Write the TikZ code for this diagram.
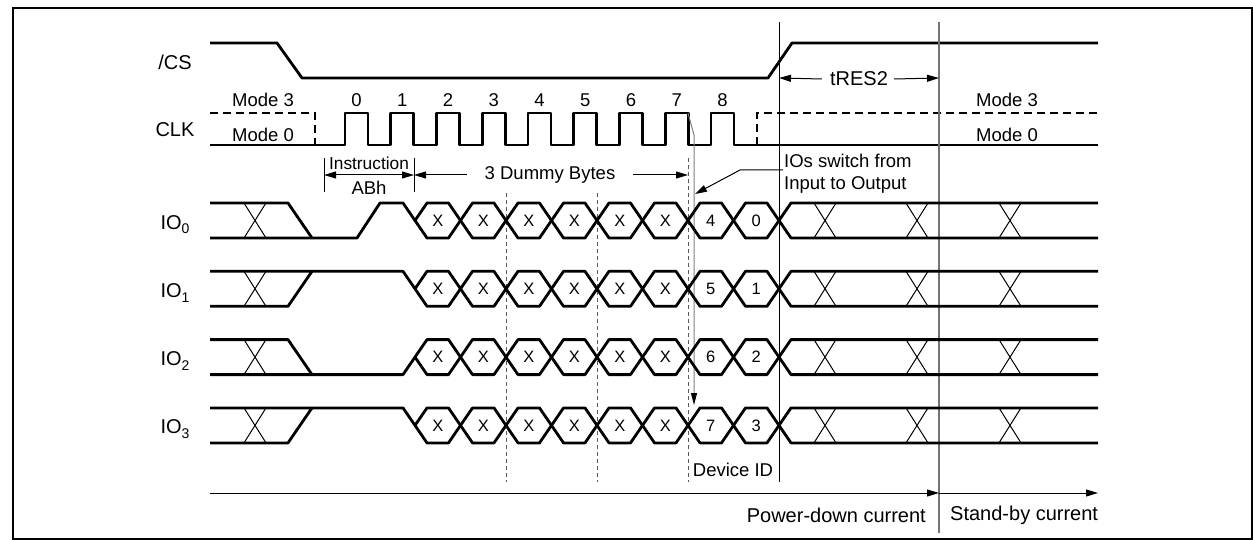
\documentclass[tikz,border=0pt]{standalone}
\usepackage{fontspec}
\setmainfont{Liberation Sans}
\usetikzlibrary{arrows.meta}
\begin{document}
\begin{tikzpicture}[x=1pt,y=-1pt,
  sig/.style={line width=2.8pt, line join=round},
  thinl/.style={line width=1pt},
  lbl/.style={font=\fontsize{18.5}{22}\selectfont, inner sep=0pt},
  namelbl/.style={font=\fontsize{20}{24}\selectfont, inner sep=0pt},
  bublbl/.style={font=\fontsize{16.5}{18}\selectfont, inner sep=0pt},
  biglbl/.style={font=\fontsize{20}{24}\selectfont, inner sep=0pt},
  tip/.style={-{Triangle[length=12pt,width=7pt]}},
  vdash/.style={line width=0.9pt, dash pattern=on 4pt off 3pt, black!65},
  mdash/.style={line width=2.8pt, dash pattern=on 8pt off 5pt},
]
\useasboundingbox (0,0) rectangle (1253,540);
\draw[line width=2pt] (13,8) rectangle (1252,539);

% /CS
\node[namelbl] (cs) at (175,62) {/CS};
\draw[sig] (210,43) -- (277,43) -- (302,78) -- (768,78) -- (792,43) -- (1098,43);

% CLK
\node[namelbl] (clk) at (175,130) {CLK};
\draw[mdash] (210,113) -- (315,113) -- (315,145);
\draw[sig] (210,145) foreach \i in {0,...,8} { -- ({345+45.75*\i},145) -- ({345+45.75*\i},113) -- ({368+45.75*\i},113) -- ({368+45.75*\i},145) } -- (1098,145);
\draw[mdash] (757,145) -- (757,113) -- (1098,113);
\foreach \i in {0,...,8} \node[lbl] (n\i) at ({356.5+45.75*\i},100) {\i};
\node[lbl] (m3l) at (263,100) {Mode 3};
\node[lbl] (m0l) at (263,135) {Mode 0};
\node[lbl] (m3r) at (1007,100) {Mode 3};
\node[lbl] (m0r) at (1007,135) {Mode 0};

% long verticals
\draw[thinl] (779,22) -- (779,482);
\draw[line width=1.5pt, black!55] (939,22) -- (939,533);

% tRES2
\node[namelbl] (tres) at (859,79) {tRES2};
\coordinate (trl) at (779,78);
\coordinate (trr) at (939,78);
\draw[thinl,tip] ([xshift=-8pt]tres.west) -- (trl);
\draw[thinl,tip] ([xshift=6pt]tres.east) -- (trr);

% Instruction
\draw[thinl] (324,158) -- (324,192);
\draw[thinl] (414,158) -- (414,192);
\node[lbl, font=\fontsize{17.3}{20}\selectfont] (ins) at (369,163) {Instruction};
\node[lbl] (abh) at (369,188) {ABh};
\coordinate (insl) at (324,175);
\coordinate (insr) at (414,175);
\draw[thinl,{Triangle[length=12pt,width=7pt]}-{Triangle[length=12pt,width=7pt]}] (insl) -- (insr);

% 3 Dummy Bytes
\node[lbl] (dummy) at (550,175) {3 Dummy Bytes};
\coordinate (dbr) at (688,175);
\draw[thinl,tip] ([xshift=-18pt]dummy.west) -- (insr);
\draw[thinl,tip] ([xshift=18pt]dummy.east) -- (dbr);

% dashed verticals
\draw[vdash] (506,193) -- (506,482);
\draw[vdash] (597,193) -- (597,482);
\draw[vdash] (688,158) -- (688,482);

% clock 7 -> IO3 arrow
\coordinate (c7f) at (688,113);
\coordinate (c7b) at (694,135);
\coordinate (c7t) at (694,405);
\draw[line width=1pt, black!50, -{Triangle[length=12pt,width=6pt,color=black]}] (c7f) -- (c7b) -- (c7t);

% IOs switch note
\node[lbl, align=left, anchor=west] (ios) at (784,174) {IOs switch from\\Input to Output};
\coordinate (iosl) at (783,170);
\coordinate (iosb) at (740,170);
\coordinate (iost) at (695,194);
\draw[thinl,tip] (iosl) -- (iosb) -- (iost);

% Device ID
\node[lbl] (devid) at (733,470) {Device ID};

% IO rows
\foreach \r/\a/\b in {0/4/0, 1/5/1, 2/6/2, 3/7/3} {
  \pgfmathsetmacro{\M}{220.5+68.3*\r}
  \pgfmathsetmacro{\T}{\M-17.5}
  \pgfmathsetmacro{\B}{\M+17.5}
  \node[namelbl] (io\r) at (175,{\M+4}) {IO\raisebox{-0.45ex}{\fontsize{14}{16}\selectfont\r}};
  \draw[thinl] (244,\T) -- (266,\B) (244,\B) -- (266,\T);
  \foreach \k in {0,...,7} {
    \pgfmathsetmacro{\ca}{415+45.5*\k}
    \pgfmathsetmacro{\cb}{\ca+45.5}
    \draw[sig] (\ca,\M) -- ({\ca+12},\T) -- ({\cb-12},\T) -- (\cb,\M) -- ({\cb-12},\B) -- ({\ca+12},\B) -- cycle;
  }
  \foreach \k in {0,...,5} \node[bublbl] (b\r\k) at ({437.75+45.5*\k},\M) {X};
  \node[bublbl] (b\r6) at ({437.75+45.5*6},\M) {\a};
  \node[bublbl] (b\r7) at ({437.75+45.5*7},\M) {\b};
  \draw[sig] (1098,\T) -- (791,\T) -- (779,\M) -- (791,\B) -- (1098,\B);
  \foreach \xc in {825,917,1010} \draw[thinl] ({\xc-11},\T) -- ({\xc+11},\B) ({\xc-11},\B) -- ({\xc+11},\T);
}
% row-specific leading parts
\pgfmathsetmacro{\Ta}{203}\pgfmathsetmacro{\Ma}{220.5}\pgfmathsetmacro{\Ba}{238}
\draw[sig] (210,\Ta) -- (288,\Ta) -- (312,\Ba);
\draw[sig] (210,\Ba) -- (357,\Ba) -- (380,\Ta) -- (403,\Ta) -- (415,\Ma);
\pgfmathsetmacro{\Tb}{271.3}\pgfmathsetmacro{\Mb}{288.8}\pgfmathsetmacro{\Bb}{306.3}
\draw[sig] (210,\Tb) -- (403,\Tb) -- (415,\Mb);
\draw[sig] (210,\Bb) -- (288,\Bb) -- (312,\Tb);
\pgfmathsetmacro{\Tc}{339.6}\pgfmathsetmacro{\Mc}{357.1}\pgfmathsetmacro{\Bc}{374.6}
\draw[sig] (210,\Tc) -- (288,\Tc) -- (312,\Bc);
\draw[sig] (210,\Bc) -- (403,\Bc) -- (415,\Mc);
\pgfmathsetmacro{\Td}{407.9}\pgfmathsetmacro{\Md}{425.4}\pgfmathsetmacro{\Bd}{442.9}
\draw[sig] (210,\Td) -- (403,\Td) -- (415,\Md);
\draw[sig] (210,\Bd) -- (288,\Bd) -- (312,\Td);

% current arrows
\coordinate (ca0) at (210,493);
\coordinate (ca1) at (939,493);
\coordinate (ca2) at (1098,493);
\draw[thinl,tip] (ca0) -- (ca1);
\draw[thinl,tip] (ca1) -- (ca2);
\node[biglbl, anchor=east] (pd) at (926,515) {Power-down current};
\node[biglbl, anchor=west] (sb) at (950,515) {Stand-by current};
\end{tikzpicture}
\end{document}
